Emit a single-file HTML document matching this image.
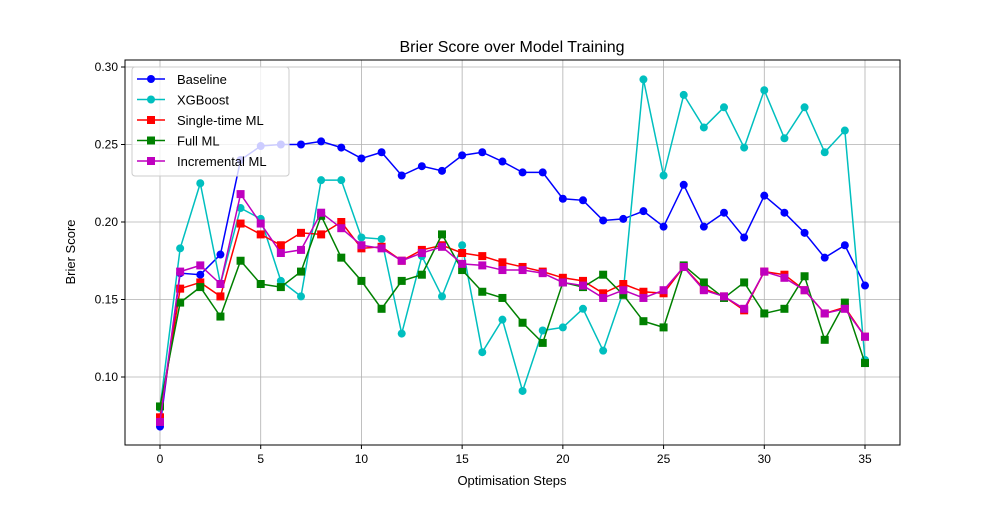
<!DOCTYPE html>
<html><head><meta charset="utf-8"><style>body{margin:0;background:#fff}svg{font-family:"Liberation Sans","DejaVu Sans",sans-serif}</style></head>
<body>
<svg id="chart" width="1000" height="500">
<text x="512" y="52" text-anchor="middle" font-size="16">Brier Score over Model Training</text>
<g id="grid"></g><g id="axes"></g><g id="series"></g><g id="legend"></g>
<text x="512" y="485" text-anchor="middle" font-size="13">Optimisation Steps</text>
<text x="75" y="252" text-anchor="middle" font-size="13" transform="rotate(-90 75 252)">Brier Score</text>
</svg>
<script>
const steps=[...Array(36).keys()];
const xTicks=[0,5,10,15,20,25,30,35];
const yTicks=[0.10,0.15,0.20,0.25,0.30];
const baseline=[0.068,0.167,0.166,0.179,0.24,0.249,0.250,0.250,0.252,0.248,0.241,0.245,0.230,0.236,0.233,0.243,0.245,0.239,0.232,0.232,0.215,0.214,0.201,0.202,0.207,0.197,0.224,0.197,0.206,0.190,0.217,0.206,0.193,0.177,0.185,0.159];
const xgboost=[0.080,0.183,0.225,0.160,0.209,0.202,0.162,0.152,0.227,0.227,0.190,0.189,0.128,0.178,0.152,0.185,0.116,0.137,0.091,0.130,0.132,0.144,0.117,0.155,0.292,0.230,0.282,0.261,0.274,0.248,0.285,0.254,0.274,0.245,0.259,0.111];
const singleML=[0.074,0.157,0.161,0.152,0.199,0.192,0.185,0.193,0.192,0.200,0.183,0.184,0.175,0.182,0.185,0.180,0.178,0.174,0.171,0.168,0.164,0.162,0.154,0.160,0.155,0.154,0.171,0.157,0.152,0.143,0.168,0.166,0.156,0.141,0.145,0.126];
const fullML=[0.081,0.148,0.158,0.139,0.175,0.160,0.158,0.168,0.204,0.177,0.162,0.144,0.162,0.166,0.192,0.169,0.155,0.151,0.135,0.122,0.161,0.158,0.166,0.153,0.136,0.132,0.172,0.161,0.151,0.161,0.141,0.144,0.165,0.124,0.148,0.109];
const incrementalML=[0.071,0.168,0.172,0.160,0.218,0.199,0.180,0.182,0.206,0.196,0.185,0.183,0.175,0.180,0.184,0.173,0.172,0.169,0.169,0.167,0.161,0.159,0.151,0.156,0.151,0.156,0.171,0.156,0.152,0.144,0.168,0.164,0.156,0.141,0.144,0.126];
const NS='http://www.w3.org/2000/svg';
const L=125,R=900,T=60,B=445;
const xs=v=>160+(v/35)*705;
const ys=v=>377-(v-0.10)*1550;
function mk(tag,attrs,parent){const e=document.createElementNS(NS,tag);for(const k in attrs)e.setAttribute(k,attrs[k]);parent.appendChild(e);return e;}
const grid=document.getElementById('grid'),axes=document.getElementById('axes'),ser=document.getElementById('series'),leg=document.getElementById('legend');
xTicks.forEach(t=>{const x=xs(t);
 const g=mk('line',{x1:x,x2:x,y1:T,y2:B,stroke:'#b0b0b0','stroke-width':0.8},grid);
 
 
 mk('line',{x1:x,x2:x,y1:B,y2:B+4,stroke:'#000'},axes);
 const tx=mk('text',{x:x,y:B+18,'text-anchor':'middle','font-size':12},axes);tx.textContent=t;
 
 });
yTicks.forEach(t=>{const y=ys(t);
 const g=mk('line',{x1:L,x2:R,y1:y,y2:y,stroke:'#b0b0b0','stroke-width':0.8},grid);
 
 
 mk('line',{x1:L-4,x2:L,y1:y,y2:y,stroke:'#000'},axes);
 const tx=mk('text',{x:L-7,y:y+4,'text-anchor':'end','font-size':12},axes);tx.textContent=t.toFixed(2);
 
 });
const fr=mk('rect',{x:L,y:T,width:R-L,height:B-T,fill:'none',stroke:'#000','stroke-width':1},axes);


const S=[['Baseline',baseline,'#0000ff','o'],['XGBoost',xgboost,'#00bfbf','o'],['Single-time ML',singleML,'#ff0000','s'],['Full ML',fullML,'#008000','s'],['Incremental ML',incrementalML,'#bf00bf','s']];
function marker(p,x,y,c,shape){if(shape==='o')return mk('circle',{cx:x,cy:y,r:4,fill:c},p);return mk('rect',{x:x-4,y:y-4,width:8,height:8,fill:c},p);}
S.forEach(([name,vals,c,sh])=>{const g=mk('g',{},ser);
 
 
 mk('polyline',{points:vals.map((v,i)=>xs(steps[i])+','+ys(v)).join(' '),fill:'none',stroke:c,'stroke-width':1.5},g);
 vals.forEach((v,i)=>{const m=marker(g,xs(steps[i]),ys(v),c,sh);
  
  });});
const lb=mk('rect',{x:132,y:67,width:157,height:109,rx:3,fill:'#fff','fill-opacity':0.8,stroke:'#ccc'},leg);


S.forEach(([name,vals,c,sh],i)=>{const y=79+i*20.5;const g=mk('g',{},leg);
 
 
 mk('line',{x1:137,x2:165,y1:y,y2:y,stroke:c,'stroke-width':1.5},g);
 marker(g,151,y,c,sh);
 const t=mk('text',{x:177,y:y+5,'font-size':13},g);t.textContent=name;});
</script>
</body></html>
